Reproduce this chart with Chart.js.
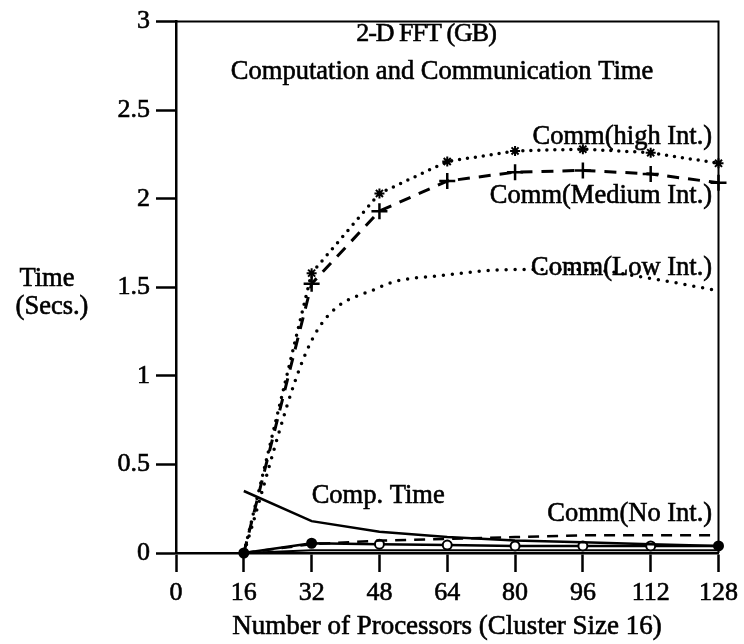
<!DOCTYPE html>
<html>
<head>
<meta charset="utf-8">
<script src="https://cdn.jsdelivr.net/npm/chart.js@4/dist/chart.umd.min.js"></script>
<style>
  html, body { margin: 0; padding: 0; background: #fff; }
  #wrap { width: 744px; height: 644px; }
</style>
</head>
<body>
<div id="wrap"><canvas id="c" width="744" height="644"></canvas></div>
<script>
// Number of processors (cluster size 16)
const processors = [16, 32, 48, 64, 80, 96, 112, 128];

// Times in seconds
const commHigh   = [0, 1.58, 2.03, 2.21, 2.27, 2.28, 2.26, 2.20];
const commMedium = [0, 1.52, 1.93, 2.10, 2.15, 2.16, 2.14, 2.09];
const commLow    = [0, 1.20, 1.50, 1.57, 1.60, 1.60, 1.55, 1.48];
const compTime   = [0.35, 0.18, 0.12, 0.09, 0.07, 0.06, 0.05, 0.04];
const commNone   = [0, 0.05, 0.07, 0.08, 0.09, 0.10, 0.10, 0.10];
const commNoneMarked = [0, 0.055, 0.05, 0.045, 0.04, 0.04, 0.04, 0.04];
const baseLine   = [0, 0.015, 0.015, 0.015, 0.015, 0.015, 0.015, 0.015];

const xTicks = [0, 16, 32, 48, 64, 80, 96, 112, 128];
const yTicks = [0, 0.5, 1, 1.5, 2, 2.5, 3];

const FONT = "'Liberation Serif', 'Times New Roman', serif";
const pts = arr => processors.map((p, i) => ({ x: p, y: arr[i] }));

// Frame on the top and right of the plot area
const framePlugin = {
  id: 'frame',
  afterDraw(chart) {
    const { ctx, chartArea: a } = chart;
    ctx.save();
    ctx.strokeStyle = '#000';
    ctx.lineWidth = 2;
    ctx.beginPath();
    ctx.moveTo(a.left, a.top);
    ctx.lineTo(a.right, a.top);
    ctx.lineTo(a.right, a.bottom);
    ctx.stroke();
    ctx.restore();
  }
};

function heavyText(ctx, s, x, y) {
  ctx.fillText(s, x, y);
  ctx.strokeText(s, x, y);
}

// Titles, axis captions and curve names
const textPlugin = {
  id: 'texts',
  afterDraw(chart) {
    const { ctx, scales: { x, y } } = chart;
    ctx.save();
    ctx.fillStyle = '#000';
    ctx.strokeStyle = '#000';
    ctx.lineWidth = 0.6;
    ctx.textBaseline = 'middle';

    ctx.textAlign = 'center';
    ctx.font = `26px ${FONT}`;
    ctx.letterSpacing = '-1px';
    heavyText(ctx, '2-D FFT (GB)', 426, 34);
    ctx.letterSpacing = '0px';
    ctx.font = `26.5px ${FONT}`;
    heavyText(ctx, 'Computation and Communication Time', 442, 72);
    heavyText(ctx, 'Time', 47, 279);
    heavyText(ctx, '(Secs.)', 52, 307);
    ctx.font = `27px ${FONT}`;
    heavyText(ctx, 'Number of Processors (Cluster Size 16)', 447, 627);

    ctx.font = `26.5px ${FONT}`;
    ctx.textAlign = 'right';
    heavyText(ctx, 'Comm(high Int.)', x.getPixelForValue(126.5), y.getPixelForValue(2.35));
    heavyText(ctx, 'Comm(Medium Int.)', x.getPixelForValue(126.5), y.getPixelForValue(2.015));
    heavyText(ctx, 'Comm(Low Int.)', x.getPixelForValue(126.5), y.getPixelForValue(1.61));
    heavyText(ctx, 'Comm(No Int.)', x.getPixelForValue(126.5), y.getPixelForValue(0.22));
    ctx.textAlign = 'left';
    heavyText(ctx, 'Comp. Time', x.getPixelForValue(32), y.getPixelForValue(0.32));
    ctx.restore();
  }
};

const base = {
  borderColor: '#000',
  backgroundColor: '#000',
  pointBorderColor: '#000',
  fill: false,
  clip: 10
};

const tickFont = { family: FONT, size: 26 };

new Chart(document.getElementById('c'), {
  type: 'line',
  data: {
    datasets: [
      Object.assign({}, base, {
        label: 'Comm(high Int.)',
        data: pts(commHigh),
        borderWidth: 3.5,
        borderDash: [0, 8],
        borderCapStyle: 'round',
        pointStyle: 'star',
        pointRadius: processors.map((p, i) => i === 0 ? 0 : 5),
        pointBorderWidth: 2
      }),
      Object.assign({}, base, {
        label: 'Comm(Medium Int.)',
        data: pts(commMedium),
        borderWidth: 3,
        borderDash: [12, 9],
        pointStyle: 'cross',
        pointRadius: processors.map((p, i) => i === 0 ? 0 : 8),
        pointBorderWidth: 2.5
      }),
      Object.assign({}, base, {
        label: 'Comm(Low Int.)',
        data: pts(commLow),
        borderWidth: 3.5,
        borderDash: [0, 9],
        borderCapStyle: 'round',
        cubicInterpolationMode: 'monotone',
        pointRadius: 0
      }),
      Object.assign({}, base, {
        label: 'Comp. Time',
        data: pts(compTime),
        borderWidth: 2.5,
        pointRadius: 0
      }),
      Object.assign({}, base, {
        label: 'Comm(No Int.)',
        data: pts(commNone),
        borderWidth: 2.5,
        borderDash: [11, 8],
        pointRadius: 0
      }),
      Object.assign({}, base, {
        label: 'Comm(No Int.) marked',
        data: pts(commNoneMarked),
        borderWidth: 2.5,
        pointStyle: 'circle',
        pointRadius: 4.5,
        pointBorderWidth: 2,
        pointBackgroundColor: processors.map((p, i) => (i <= 1 || i === 7) ? '#000' : '#fff')
      }),
      Object.assign({}, base, {
        label: 'Base',
        data: pts(baseLine),
        borderWidth: 2,
        pointRadius: 0
      })
    ]
  },
  options: {
    responsive: false,
    animation: false,
    events: [],
    layout: { padding: { top: 20, right: 24, left: 0, bottom: 0 } },
    plugins: { legend: { display: false }, tooltip: { enabled: false }, title: { display: false } },
    scales: {
      x: {
        type: 'linear',
        min: 0, max: 128,
        afterBuildTicks(s) { s.ticks = xTicks.map(v => ({ value: v })); },
        afterFit(s) { s.height = 91; },
        ticks: { color: '#000', font: tickFont, padding: 6, maxRotation: 0, autoSkip: false,
                 textStrokeColor: '#000', textStrokeWidth: 0.6 },
        grid: { drawOnChartArea: false, drawTicks: true, tickLength: 19, tickWidth: 2.5, tickColor: '#000' },
        border: { display: true, color: '#000', width: 2.5 }
      },
      y: {
        type: 'linear',
        min: 0, max: 3,
        afterBuildTicks(s) { s.ticks = yTicks.map(v => ({ value: v })); },
        afterFit(s) { s.width = 176; },
        ticks: { color: '#000', font: tickFont, padding: 6, autoSkip: false,
                 textStrokeColor: '#000', textStrokeWidth: 0.6,
                 callback: v => String(v) },
        grid: { drawOnChartArea: false, drawTicks: true, tickLength: 20, tickWidth: 2.5, tickColor: '#000' },
        border: { display: true, color: '#000', width: 2.5 }
      }
    }
  },
  plugins: [framePlugin, textPlugin]
});
</script>
</body>
</html>
